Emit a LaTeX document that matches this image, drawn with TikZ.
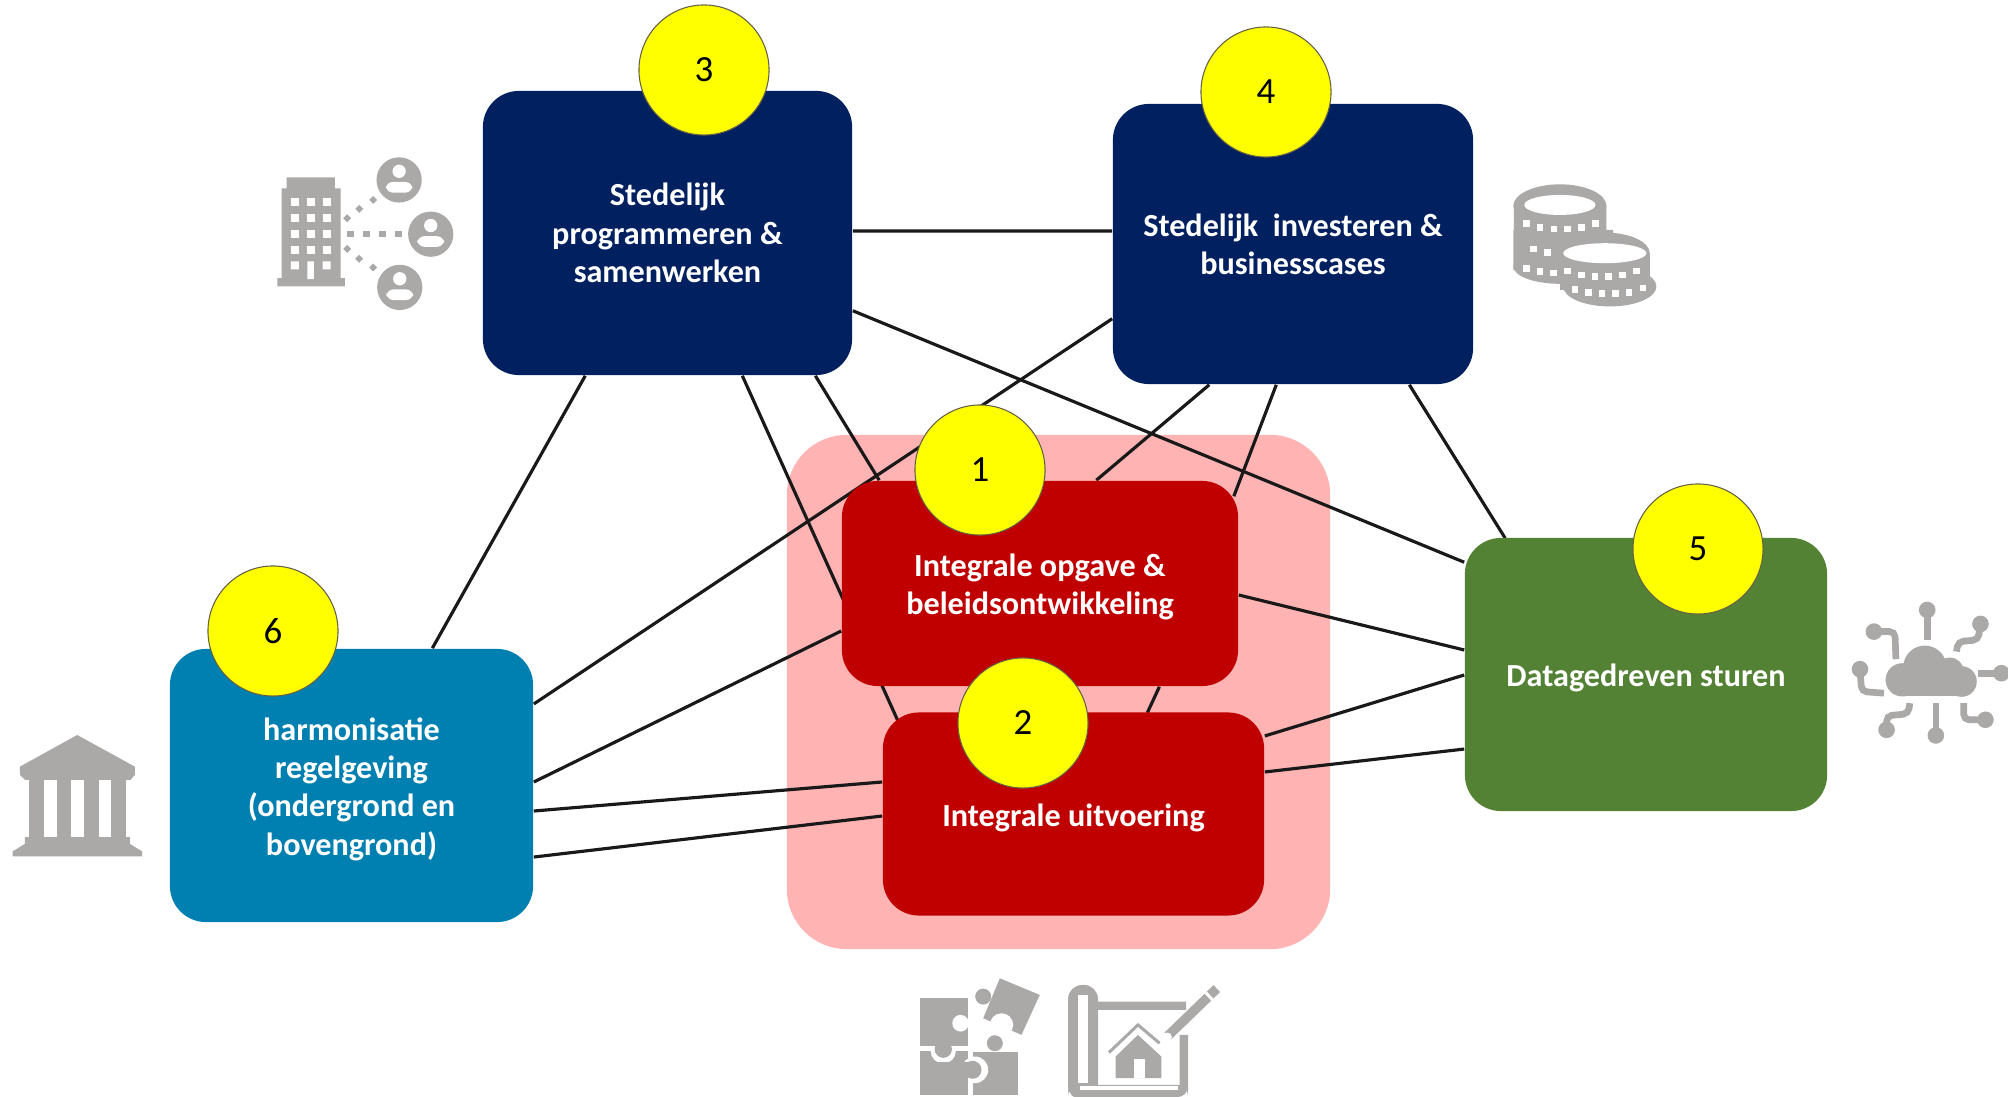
\documentclass[tikz,border=0pt]{standalone}
\usepackage{fontspec}
\setmainfont{Carlito}
\pgfdeclarelayer{zonelayer}
\pgfdeclarelayer{linklayer}
\pgfsetlayers{zonelayer,linklayer,main}
\definecolor{navybox}{HTML}{002060}
\definecolor{redbox}{HTML}{C00000}
\definecolor{greenbox}{HTML}{548235}
\definecolor{bluebox}{HTML}{0080B0}
\definecolor{pinkzone}{HTML}{FFB3B3}
\definecolor{icongray}{HTML}{ABA8A8}
\definecolor{numberyellow}{HTML}{FFFF00}
\newcommand{\dropline}{\rule{0pt}{8.4pt}}
\tikzset{
    card/.style={rounded corners=0.36cm, inner sep=0, align=center, text=white,
        font=\fontsize{9.15}{10.9}\selectfont\bfseries},
    number/.style={circle, fill=numberyellow, draw=black!70!yellow, line width=0.3pt, inner sep=0,
        minimum size=1.3cm, font=\fontsize{10.5}{12}\selectfont},
    link/.style={line width=0.9pt, black!90},
    wire/.style={icongray, line width=0.067cm, rounded corners=1.5pt}
}
\begin{document}
\begin{tikzpicture}[x=0.01cm, y=-0.01cm]
    \useasboundingbox (0,0) rectangle (2008,1097);

    % Boxes
    \begin{pgfonlayer}{zonelayer}
        \node [fill=pinkzone, rounded corners=0.6cm, minimum width=5.43cm, minimum height=5.14cm] (zone) at (1058.5,692) {};
    \end{pgfonlayer}
    \node [card, fill=redbox, minimum width=3.96cm, minimum height=2.05cm] (opgave) at (1040,583.5) {\dropline Integrale opgave \&\\beleidsontwikkeling};
    \node [card, fill=redbox, minimum width=3.81cm, minimum height=2.03cm] (uitvoering) at (1073.5,814) {\dropline Integrale uitvoering};
    \node [card, fill=navybox, minimum width=3.69cm, minimum height=2.84cm] (programmeren) at (667.5,233) {Stedelijk\\programmeren \&\\samenwerken};
    \node [card, fill=navybox, minimum width=3.60cm, minimum height=2.80cm] (investeren) at (1293,244) {Stedelijk\ \ investeren \&\\businesscases};
    \node [card, fill=greenbox, minimum width=3.62cm, minimum height=2.73cm] (sturen) at (1646,674.5) {\dropline Datagedreven sturen};
    \node [card, fill=bluebox, minimum width=3.63cm, minimum height=2.73cm] (regelgeving) at (351.5,785.5) {\dropline harmonisatie\\regelgeving\\(ondergrond en\\bovengrond)};

    % Numbers
    \node [number] (one) at (980,470) {1};
    \node [number] (two) at (1023,723) {2};
    \node [number] (three) at (704,70) {3};
    \node [number] (four) at (1266,92) {4};
    \node [number] (five) at (1698,549) {5};
    \node [number] (six) at (273,631) {6};

    % Connectors, behind the boxes
    \begin{pgfonlayer}{linklayer}
        \draw [link] ([xshift=1.03cm]programmeren.south west) -- ([xshift=2.63cm]regelgeving.north west);
        \draw [link] ([xshift=3.33cm]programmeren.south west) -- ([xshift=0.38cm]opgave.north west);
        \draw [link] ([xshift=2.60cm]programmeren.south west) -- ([xshift=0.17cm,yshift=-0.12cm]uitvoering.north west);
        \draw [link] ([yshift=0.65cm]programmeren.south east) -- ([yshift=-0.25cm]sturen.north west);
        \draw [link] ([yshift=0.02cm]programmeren.east) -- ([yshift=0.13cm]investeren.west);
        \draw [link] ([yshift=0.66cm]investeren.south west) -- ([yshift=0.815cm]regelgeving.east);
        \draw [link] ([xshift=0.97cm]investeren.south west) -- ([xshift=2.55cm]opgave.north west);
        \draw [link] ([xshift=1.64cm]investeren.south west) -- ([xshift=-0.05cm,yshift=-0.16cm]opgave.north east);
        \draw [link] ([xshift=2.97cm]investeren.south west) -- ([xshift=0.41cm,yshift=-0.01cm]sturen.north west);
        \draw [link] ([yshift=-0.115cm]opgave.east) -- ([yshift=0.245cm]sturen.west);
        \draw [link] ([yshift=-0.475cm]opgave.west) -- ([yshift=0.035cm]regelgeving.east);
        \draw [link] ([xshift=3.18cm]opgave.south west) -- ([xshift=2.65cm,yshift=-0.01cm]uitvoering.north west);
        \draw [link] ([yshift=0.32cm]uitvoering.west) -- ([yshift=-0.255cm]regelgeving.east);
        \draw [link] ([yshift=-0.02cm]uitvoering.west) -- ([yshift=-0.715cm]regelgeving.east);
        \draw [link] ([yshift=0.78cm]uitvoering.east) -- ([yshift=-0.005cm]sturen.west);
        \draw [link] ([yshift=0.42cm]uitvoering.east) -- ([yshift=-0.745cm]sturen.west);
    \end{pgfonlayer}

    % Building with people
    \begin{scope}[shift={(260,140)}, x=0.00333cm, y=-0.00333cm]
        \fill [icongray] (80,112) rectangle (225,145) (65,145) rectangle (242,415) (52,415) rectangle (255,440);
        \foreach \row in {187,233,282,330}
            \foreach \col in {105,152,200}
                \fill [white] (\col-12,\row-12) rectangle (\col+12,\row+12);
        \fill [white] (93,365) rectangle (117,389) (188,365) rectangle (212,389) (142,365) rectangle (162,418);
        \foreach \dotx/\doty in {262/235,298/207,340/180,262/327,298/357,340/383}
            \fill [icongray] (\dotx-12,\doty) -- (\dotx,\doty-12) -- (\dotx+12,\doty) -- (\dotx,\doty+12) -- cycle;
        \foreach \dotx in {272,320,368,416}
            \fill [icongray] (\dotx-10,272) rectangle (\dotx+10,292);
        \foreach \px/\py in {418/120,513/283,420/443} {
            \fill [icongray] (\px,\py) circle (68);
            \fill [white] (\px,\py-26) circle (20);
            \fill [white, rounded corners=2pt] (\px-40,\py+38) rectangle (\px+40,\py+6);
        }
    \end{scope}

    % Coins
    \begin{scope}[shift={(1490,170)}, x=0.00333cm, y=-0.00333cm]
        \fill [icongray] (72,108) rectangle (350,180) (70,180) rectangle (370,300);
        \fill [icongray] (210,108) ellipse [x radius=140, y radius=65];
        \fill [icongray] (210,290) ellipse [x radius=140, y radius=52];
        \fill [white] (210,105) ellipse [x radius=107, y radius=30];
        \fill [icongray] (210,250) rectangle (480,360);
        \fill [icongray] (345,250) ellipse [x radius=135, y radius=62];
        \fill [icongray] (360,350) ellipse [x radius=140, y radius=60];
        \fill [white] (345,250) ellipse [x radius=125, y radius=30];
        \foreach \dotx/\doty in {110/160,150/172,192/177,233/177,275/172,316/160,130/237,172/248,110/295,150/305,190/310,
                232/303,274/316,315/320,357/320,398/316,440/303,255/360,295/368,336/372,377/372,418/368,460/355}
            \fill [white] (\dotx-10,\doty-10) rectangle (\dotx+10,\doty+10);
    \end{scope}

    % Cloud
    \begin{scope}[shift={(1840,590)}, x=0.00333cm, y=-0.00333cm]
        \fill [icongray] (187,270) circle (50) (255,232) circle (65) (330,245) circle (42) (365,275) circle (46);
        \fill [icongray] (187,260) rectangle (365,320);
        \draw [wire] (262,60) -- (262,150);
        \draw [wire] (422,102) -- (415,150) -- (355,155) -- (350,185);
        \draw [wire] (415,250) -- (485,250);
        \draw [wire] (372,340) -- (372,390) -- (437,390);
        \draw [wire] (288,340) -- (288,437);
        \draw [wire] (210,340) -- (205,372) -- (140,378) -- (140,420);
        \draw [wire] (132,310) -- (65,305) -- (60,238);
        \draw [wire] (102,125) -- (165,125) -- (168,208);
        \foreach \tipx/\tipy in {262/60,422/102,485/250,437/390,288/437,140/420,60/238,102/125}
            \fill [icongray] (\tipx,\tipy) circle (25);
    \end{scope}

    % Bank
    \begin{scope}[shift={(0,720)}, x=0.00333cm, y=-0.00333cm]
        \fill [icongray] (232,45) -- (405,140) -- (405,165) -- (392,180) -- (75,180) -- (60,165) -- (60,140) -- cycle;
        \foreach \col in {88,170,253,335}
            \fill [icongray] (\col,175) rectangle (\col+43,360);
        \fill [icongray] (75,352) -- (390,352) -- (390,372) -- (427,395) -- (427,410) -- (38,410) -- (38,395) -- (75,372) -- cycle;
    \end{scope}

    % Puzzle
    \begin{scope}[shift={(900,960)}, x=0.00333cm, y=-0.00333cm]
        \fill [icongray] (60,273) rectangle (205,405);
        \fill [white] (130,273) circle (38);
        \fill [icongray] (60,113) rectangle (205,258);
        \fill [icongray] (130,268) circle (26);
        \fill [white] (182,190) circle (25);
        \fill [icongray] (220,275) rectangle (355,405);
        \fill [icongray] (285,250) circle (24);
        \fill [white] (225,330) circle (40);
        \fill [white] (205,292) rectangle (222,368);
        \fill [icongray] (60,305) rectangle (205,405);
        \fill [icongray] (218,330) circle (27);
        \fill [icongray] (300,55) -- (420,105) -- (365,225) -- (250,175) -- cycle;
        \fill [icongray] (250,110) circle (24);
        \fill [white] (305,195) circle (35);
    \end{scope}

    % Blueprint with house
    \begin{scope}[shift={(900,960)}, x=0.00333cm, y=-0.00333cm]
        \fill [icongray, rounded corners=4pt] (505,75) rectangle (595,420);
        \fill [icongray, rounded corners=3pt] (505,375) rectangle (865,412);
        \fill [white] (535,105) rectangle (565,370);
        \fill [white] (540,378) rectangle (835,392);
        \fill [icongray] (595,125) rectangle (860,150) (840,225) rectangle (866,390);
        \fill [icongray] (648,290) -- (715,225) -- (785,290) -- (785,355) -- (648,355) -- cycle;
        \fill [white] (702,297) rectangle (735,355);
        \draw [icongray, line width=0.03cm] (628,278) -- (715,195) -- (780,250);
        \draw [white, line width=0.13cm] (800,235) -- (870,170);
        \draw [icongray, line width=0.095cm] (805,228) -- (925,112);
        \draw [icongray, line width=0.095cm] (932,105) -- (952,86);
        \fill [white] (803,232) circle (14);
    \end{scope}
\end{tikzpicture}
\end{document}
